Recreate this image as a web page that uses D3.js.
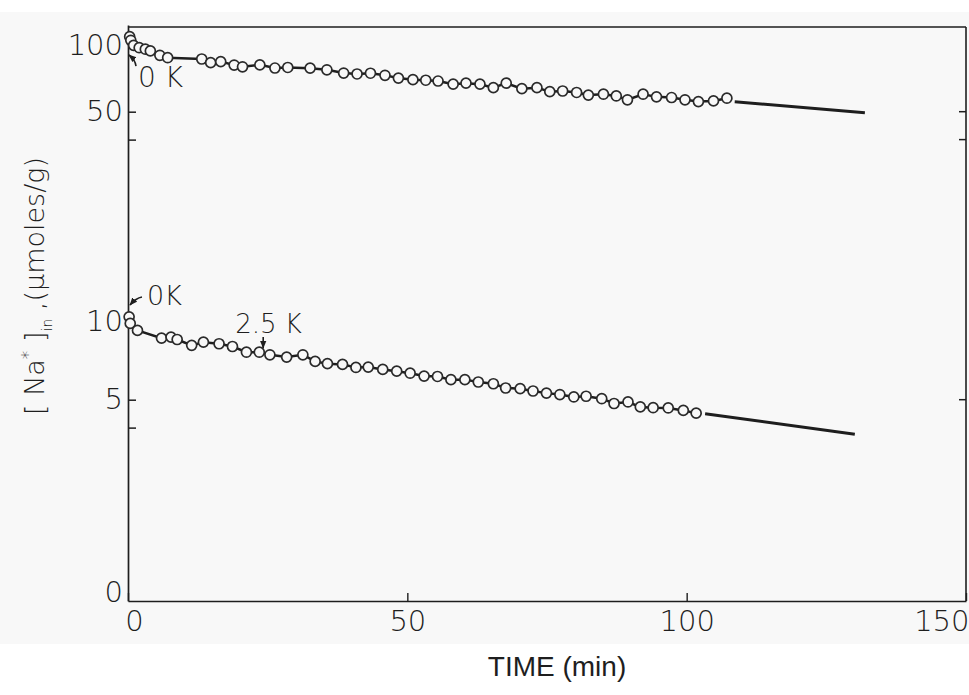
<!DOCTYPE html>
<html><head><meta charset="utf-8">
<script src="https://cdn.jsdelivr.net/npm/d3@7"></script>
<style>
html,body{margin:0;padding:0;background:#fff;}
svg{display:block;}
text{fill:#1e1e1e;}
</style></head>
<body>
<svg id="chart" width="969" height="695"></svg>
<script>
// ---- data ----
const upperTime = [0.3,0.5,1.0,2.0,3.1,4.0,5.7,7.1,13.2,14.8,16.6,19.0,20.5,23.6,26.3,28.6,32.6,35.6,38.6,41.0,43.4,46.0,48.4,51.0,53.3,55.5,58.2,60.5,63.0,65.4,67.7,70.5,73.2,75.5,77.8,80.3,82.4,85.1,87.4,89.4,92.2,94.6,97.3,99.7,102.1,104.8,107.2];
const upperNa   = [91.1,88.5,85.0,83.4,82.4,81.3,78.5,77.0,76.2,74.0,74.6,72.6,71.6,72.7,70.9,71.2,70.8,69.9,68.1,67.6,68.0,66.9,65.4,64.6,64.3,63.9,62.3,62.8,62.3,60.6,62.8,60.1,60.6,58.7,59.0,58.3,57.1,57.5,56.7,55.0,57.5,56.3,56.0,55.0,54.2,54.5,55.7];
const upperExtTime = [108.6,131.9];
const upperExtNa   = [54.1,49.6];

const lowerTime = [0.2,0.4,1.7,6.0,7.7,8.8,11.4,13.5,16.3,18.7,21.2,23.5,25.4,28.4,31.3,33.5,35.7,38.4,40.8,43.0,45.6,48.1,50.5,53.0,55.4,57.8,60.3,62.7,65.4,67.6,70.2,72.5,74.9,77.3,79.8,82.0,84.8,87.0,89.5,91.7,94.0,96.7,99.4,101.7];
const lowerNa   = [9.7,9.2,8.7,8.18,8.25,8.09,7.72,7.92,7.82,7.65,7.31,7.31,7.16,7.03,7.16,6.79,6.67,6.63,6.47,6.49,6.37,6.28,6.18,6.04,6.02,5.87,5.87,5.76,5.68,5.49,5.46,5.36,5.27,5.21,5.11,5.14,5.04,4.85,4.91,4.72,4.69,4.68,4.59,4.49];
const lowerExtTime = [103.3,130.1];
const lowerExtNa   = [4.47,3.79];

const xTickValues = [0,50,100,150];
const xTickLabels = ["0","50","100","150"];
const yTickMarks  = [4,5,40,50];
const yLabelValues = [100,50,10,5,1];
const yLabelTexts  = ["100","50","10","5","0"];
const rightTickMarks = [5,40,50];

const annoTexts = ["0 K","0K","2.5 K"];
const annoTime  = [1.8,3.4,19.2];
const annoNa    = [60.9,10.66,8.52];

const arrowFromT = [1.43,2.5,24.2];
const arrowFromV = [72.0,11.36,8.25];
const arrowToT   = [0.18,0.36,24.2];
const arrowToV   = [78.7,10.66,7.56];

const xTitle = "TIME (min)";
// ---- drawing ----
const svg = d3.select("#chart");
const W = 969, H = 695;
const x = d3.scaleLinear().domain([0,150]).range([128,966]);
const y = d3.scaleLog().domain([1,100]).range([601,25]);
const ink = "#1e1e1e";
const bg = "#f8f8f8";
const numFont = "'DejaVu Sans', sans-serif";

svg.append("rect").attr("x",0).attr("y",12).attr("width",W).attr("height",632).attr("fill",bg);

// frame: top and right
svg.append("line").attr("x1",x(0)).attr("x2",x(150)).attr("y1",y(100)+2).attr("y2",y(100)+2)
  .attr("stroke",ink).attr("stroke-width",1.6);
svg.append("line").attr("x1",x(150)).attr("x2",x(150)).attr("y1",y(100)+2).attr("y2",y(1))
  .attr("stroke",ink).attr("stroke-width",1.6);
// right ticks
svg.append("g").selectAll("line").data(rightTickMarks).join("line")
  .attr("x1",x(150)).attr("x2",x(150)-7).attr("y1",d=>y(d)).attr("y2",d=>y(d))
  .attr("stroke",ink).attr("stroke-width",1.5);

// bottom axis
const xAxis = svg.append("g").attr("transform",`translate(0,${y(1)})`)
  .call(d3.axisBottom(x).tickValues(xTickValues).tickSizeInner(-8).tickSizeOuter(0).tickPadding(9)
    .tickFormat((d,i)=>xTickLabels[i]));
xAxis.select(".domain").attr("stroke",ink).attr("stroke-width",1.7);
xAxis.selectAll(".tick line").attr("stroke",ink).attr("stroke-width",1.4);
xAxis.selectAll(".tick text").attr("font-family",numFont).attr("font-weight",200)
  .attr("font-size",29).attr("fill",ink);
xAxis.selectAll(".tick").filter(d=>d===150).select("text").attr("text-anchor","end").attr("dx",3);
xAxis.selectAll(".tick").filter(d=>d===0).select("text").attr("dx",6);

// left axis: marks
const yAxisMarks = svg.append("g").attr("transform",`translate(${x(0)},0)`)
  .call(d3.axisLeft(y).tickValues(yTickMarks).tickSizeInner(-8).tickSizeOuter(0).tickFormat(""));
yAxisMarks.select(".domain").attr("stroke",ink).attr("stroke-width",1.7);
yAxisMarks.selectAll(".tick line").attr("stroke",ink).attr("stroke-width",1.5);
// left axis: labels
const yLabelShift = {100:20, 10:8, 1:-9};
const yAxisLabels = svg.append("g").attr("transform",`translate(${x(0)},0)`)
  .call(d3.axisLeft(y).tickValues(yLabelValues).tickSize(0).tickPadding(5)
    .tickFormat(d=>yLabelTexts[yLabelValues.indexOf(d)]));
yAxisLabels.select(".domain").remove();
yAxisLabels.selectAll(".tick text").attr("font-family",numFont).attr("font-weight",200)
  .attr("font-size",29).attr("fill",ink)
  .attr("transform",d=>`translate(0,${yLabelShift[d]||0})`);

// series
const line = d3.line().x(d=>x(d[0])).y(d=>y(d[1]));
function drawSeries(ts, vs, extT, extV){
  const pts = ts.map((t,i)=>[t,vs[i]]);
  const ext = extT.map((t,i)=>[t,extV[i]]);
  svg.append("path").datum(pts).attr("d",line).attr("fill","none")
    .attr("stroke",ink).attr("stroke-width",2.5);
  svg.append("path").datum(ext).attr("d",line).attr("fill","none")
    .attr("stroke",ink).attr("stroke-width",3);
  svg.append("g").selectAll("circle").data(pts).join("circle")
    .attr("cx",d=>x(d[0])).attr("cy",d=>y(d[1])).attr("r",5)
    .attr("fill",bg).attr("stroke","#2a2a2a").attr("stroke-width",1.7);
}
drawSeries(upperTime, upperNa, upperExtTime, upperExtNa);
drawSeries(lowerTime, lowerNa, lowerExtTime, lowerExtNa);

// annotations
const annoSizes = [28,27,26];
annoTexts.forEach((t,i)=>{
  svg.append("text").attr("x",x(annoTime[i])).attr("y",y(annoNa[i]))
    .attr("font-family",numFont).attr("font-weight",200).attr("font-size",annoSizes[i])
    .attr("fill",ink).text(t);
});
svg.append("defs").append("marker").attr("id","ah").attr("viewBox","0 0 10 10")
  .attr("refX",9).attr("refY",5).attr("markerWidth",5).attr("markerHeight",5).attr("orient","auto")
  .append("path").attr("d","M0,1 L10,5 L0,9 z").attr("fill",ink);
arrowFromT.forEach((t,i)=>{
  const x1=x(t), y1=y(arrowFromV[i]), x2=x(arrowToT[i]), y2=y(arrowToV[i]);
  const mx=(x1+x2)/2+ (i===0?3:0), my=(y1+y2)/2 + (i===1?-3:0);
  svg.append("path").attr("d",`M${x1},${y1} Q${mx},${my} ${x2},${y2}`)
    .attr("fill","none").attr("stroke",ink).attr("stroke-width",1.6).attr("marker-end","url(#ah)");
});

// axis titles
svg.append("text").attr("x",557).attr("y",676).attr("text-anchor","middle")
  .attr("font-family","'Liberation Sans Narrow','Liberation Sans',sans-serif").attr("font-size",28)
  .attr("fill",ink).text(xTitle);

const yt = svg.append("text").attr("transform","translate(44,286) rotate(-90)")
  .attr("text-anchor","middle").attr("font-family",numFont).attr("font-weight",200)
  .attr("font-size",27).attr("fill",ink);
yt.append("tspan").text("[ Na");
yt.append("tspan").attr("dy",-10).attr("font-size",17).text("*");
yt.append("tspan").attr("dy",10).text(" ]");
yt.append("tspan").attr("dy",8).attr("font-size",14).text("in");
yt.append("tspan").attr("dy",-8).text(" ,(µmoles/g)");
</script>
</body></html>
